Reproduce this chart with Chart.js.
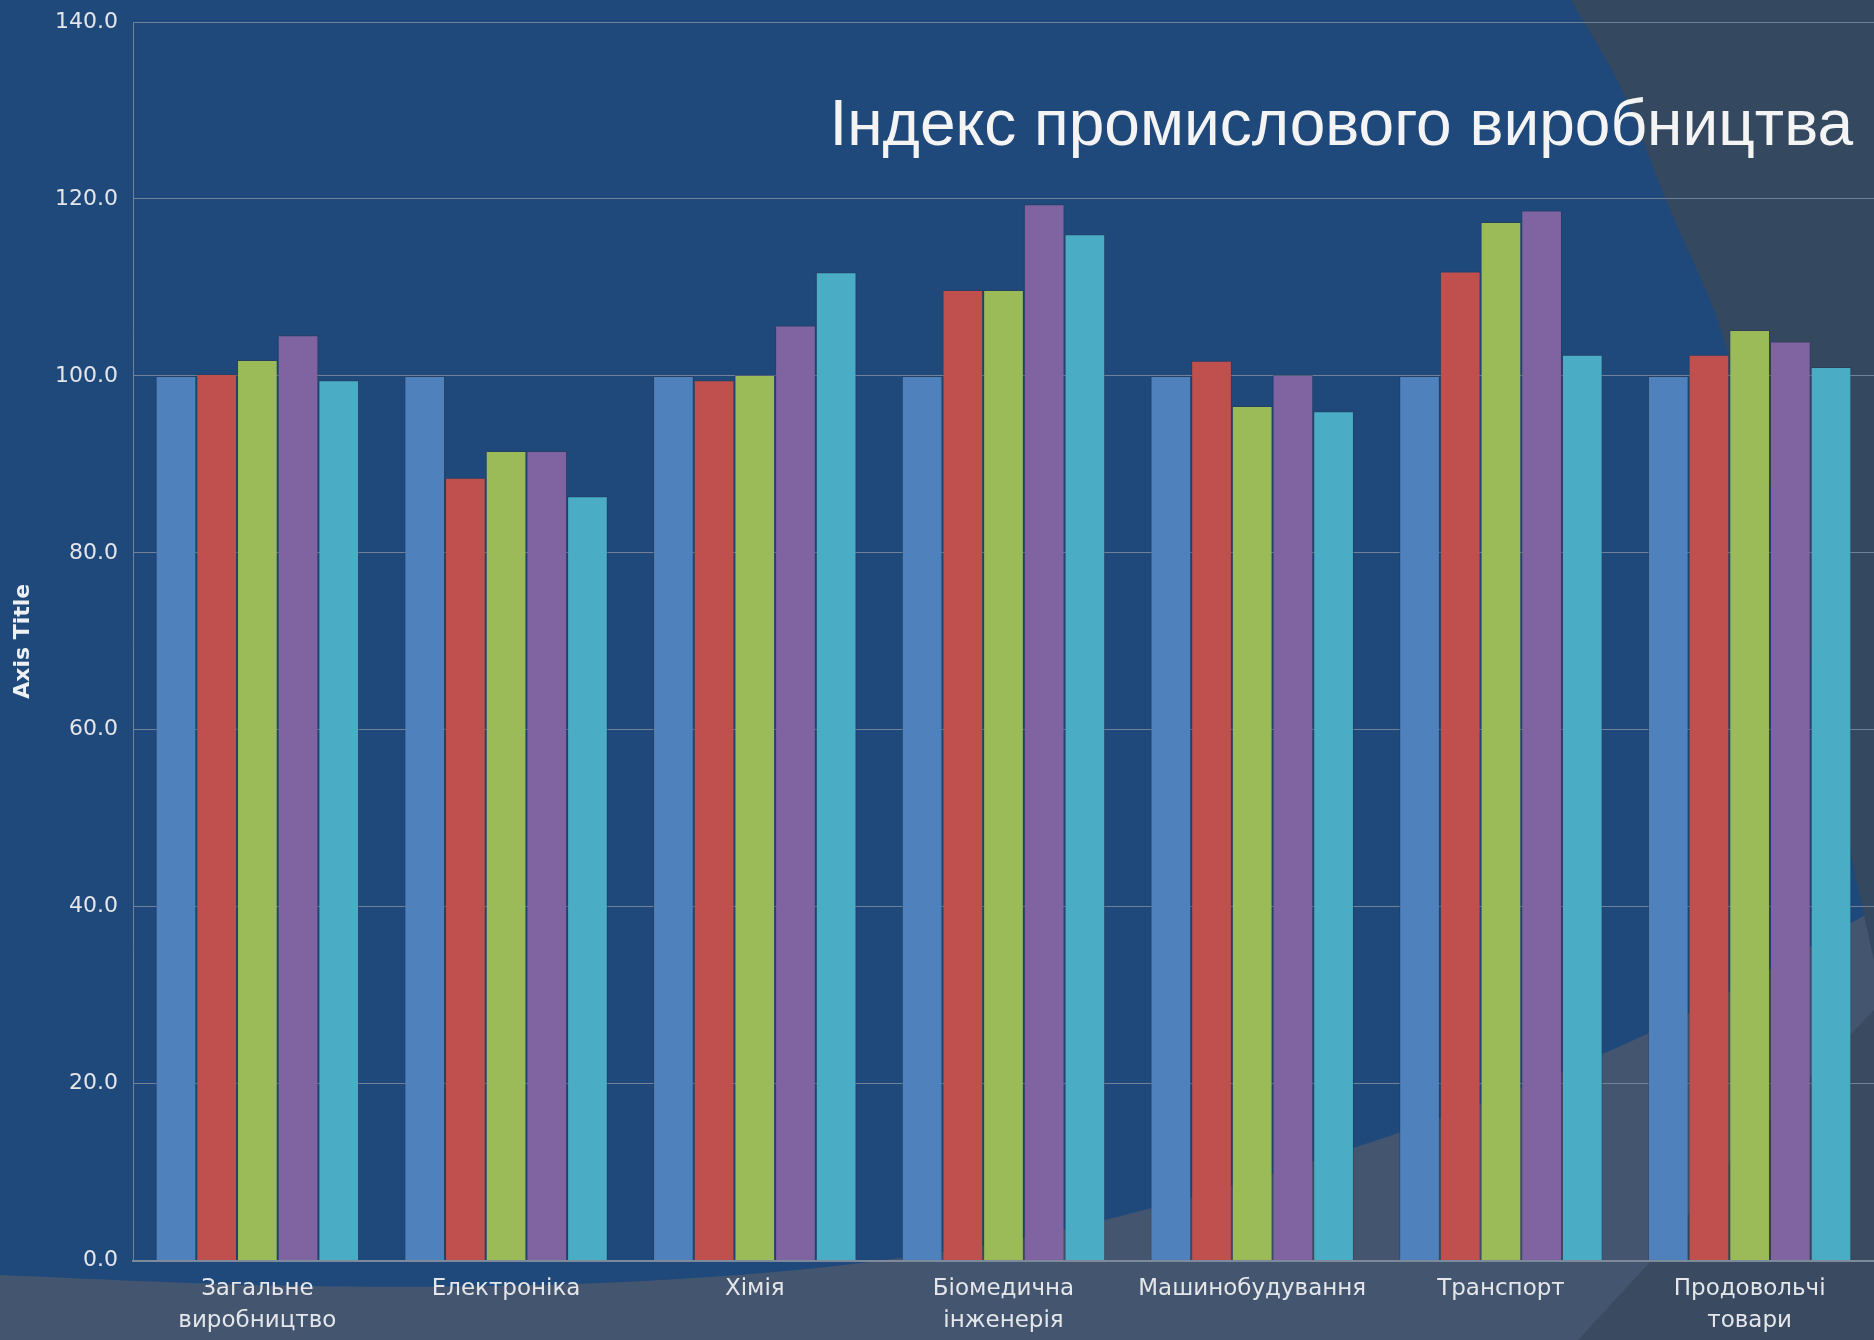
<!DOCTYPE html>
<html lang="uk">
<head>
<meta charset="utf-8">
<title>Індекс промислового виробництва</title>
<script src="https://cdn.jsdelivr.net/npm/chart.js@4.4.1/dist/chart.umd.min.js"></script>
<style>
    html, body { margin: 0; padding: 0; background: #44566f; }
    #wrap { width: 1874px; height: 1340px; }
</style>
</head>
<body>
<div id="wrap"><canvas id="industryChart" width="1874" height="1340"></canvas></div>
<script>
// --- data ---
const categories = [
    ['Загальне', 'виробництво'],
    'Електроніка',
    'Хімія',
    ['Біомедична', 'інженерія'],
    'Машинобудування',
    'Транспорт',
    ['Продовольчі', 'товари']
];
const series1 = [100.0, 100.0, 100.0, 100.0, 100.0, 100.0, 100.0];
const series2 = [100.2, 88.5, 99.5, 109.7, 101.7, 111.8, 102.4];
const series3 = [101.8, 91.5, 100.1, 109.7, 96.6, 117.4, 105.2];
const series4 = [104.6, 91.5, 105.7, 119.4, 100.1, 118.7, 103.9];
const series5 = [99.5, 86.4, 111.7, 116.0, 96.0, 102.4, 101.0];
const seriesNames = ['Ряд 1', 'Ряд 2', 'Ряд 3', 'Ряд 4', 'Ряд 5'];
const seriesColors = ['#4f81bd', '#c0504d', '#9bbb59', '#8064a2', '#4bacc6'];
const yMin = 0;
const yMax = 140;
const yStep = 20;
const chartTitle = 'Індекс промислового виробництва';
const axisTitle = 'Axis Title';

const allSeries = [series1, series2, series3, series4, series5];

/**
 * Draws a smooth curve through the given points (Catmull-Rom -> bezier).
 * Assumes the path is already at pts[0].
 */
function traceSmooth(ctx, pts) {
    for (let i = 0; i < pts.length - 1; i++) {
        const p0 = pts[i - 1] || pts[i];
        const p1 = pts[i];
        const p2 = pts[i + 1];
        const p3 = pts[i + 2] || p2;
        ctx.bezierCurveTo(
            p1[0] + (p2[0] - p0[0]) / 6, p1[1] + (p2[1] - p0[1]) / 6,
            p2[0] - (p3[0] - p1[0]) / 6, p2[1] - (p3[1] - p1[1]) / 6,
            p2[0], p2[1]
        );
    }
}

// Slide background: grey base, big blue swoosh, darker band on the right
const slideBackground = {
    id: 'slideBackground',
    beforeDraw(chart) {
        const ctx = chart.ctx;
        const w = chart.width;
        const h = chart.height;
        ctx.save();
        ctx.fillStyle = '#44566f';
        ctx.fillRect(0, 0, w, h);

        // blue swoosh
        const swoosh = [[w, 910], [1649, 1033], [1398, 1133], [1105, 1220], [869, 1262], [600, 1283], [300, 1286], [0, 1275]];
        ctx.beginPath();
        ctx.moveTo(0, 0);
        ctx.lineTo(w, 0);
        ctx.lineTo(swoosh[0][0], swoosh[0][1]);
        traceSmooth(ctx, swoosh);
        ctx.closePath();
        ctx.fillStyle = '#1f487b';
        ctx.fill();

        // dark band, top right
        const band = [[1571, 0], [1622, 90], [1666, 200], [1710, 300], [1728, 353], [1780, 520], [1820, 700], [1850, 850], [w, 960]];
        ctx.beginPath();
        ctx.moveTo(band[0][0], band[0][1]);
        traceSmooth(ctx, band);
        ctx.lineTo(w, 0);
        ctx.closePath();
        ctx.fillStyle = '#34485f';
        ctx.fill();

        // dark band, bottom right
        ctx.beginPath();
        ctx.moveTo(1578, h);
        ctx.lineTo(1649, 1263);
        ctx.lineTo(1740, 1150);
        ctx.lineTo(w, 1010);
        ctx.lineTo(w, h);
        ctx.closePath();
        ctx.fillStyle = '#3a4b61';
        ctx.fill();
        ctx.restore();
    }
};

// Slide title sits inside the plot, right aligned
const slideTitle = {
    id: 'slideTitle',
    afterDatasetsDraw(chart) {
        const ctx = chart.ctx;
        ctx.save();
        ctx.font = '64px "Liberation Sans", Arial, sans-serif';
        ctx.fillStyle = '#f4f4f4';
        ctx.textAlign = 'right';
        ctx.textBaseline = 'alphabetic';
        ctx.fillText(chartTitle, 1853, 145);
        ctx.restore();
    }
};

const ctx = document.getElementById('industryChart');
new Chart(ctx, {
    type: 'bar',
    data: {
        labels: categories,
        datasets: allSeries.map((values, i) => ({
            label: seriesNames[i],
            data: values,
            backgroundColor: seriesColors[i],
            borderColor: 'rgba(45, 55, 70, 0.45)',
            borderWidth: 1,
            categoryPercentage: 0.818,
            barPercentage: 1.0
        }))
    },
    options: {
        responsive: false,
        animation: false,
        layout: {
            padding: { top: 22, right: 0, bottom: -9, left: 0 }
        },
        plugins: {
            legend: { display: false },
            tooltip: { enabled: false }
        },
        scales: {
            x: {
                grid: { display: false, drawTicks: false },
                border: { display: true, color: '#7d8a9c', width: 2 },
                ticks: {
                    color: '#e4e6ea',
                    font: { family: '"DejaVu Sans", Verdana, sans-serif', size: 23, lineHeight: 1.4 },
                    padding: 12,
                    maxRotation: 0,
                    autoSkip: false
                }
            },
            y: {
                min: yMin,
                max: yMax,
                afterFit: (scale) => {
                    scale.width = 133;
                    scale.paddingTop = 0; // let the 140.0 line sit right under the top edge
                },
                grid: { color: '#71819a', lineWidth: 1, drawTicks: false },
                border: { display: true, color: '#71819a', width: 1 },
                ticks: {
                    stepSize: yStep,
                    color: '#e4e6ea',
                    font: { family: '"DejaVu Sans", Verdana, sans-serif', size: 22 },
                    padding: 15,
                    callback: (value) => value.toFixed(1)
                },
                title: {
                    display: true,
                    text: axisTitle,
                    color: '#eef0f3',
                    font: { family: '"DejaVu Sans", Verdana, sans-serif', size: 22, weight: 'bold', lineHeight: 1.2 },
                    padding: { top: 10, bottom: 0 }
                }
            }
        }
    },
    plugins: [slideBackground, slideTitle]
});
</script>
</body>
</html>
